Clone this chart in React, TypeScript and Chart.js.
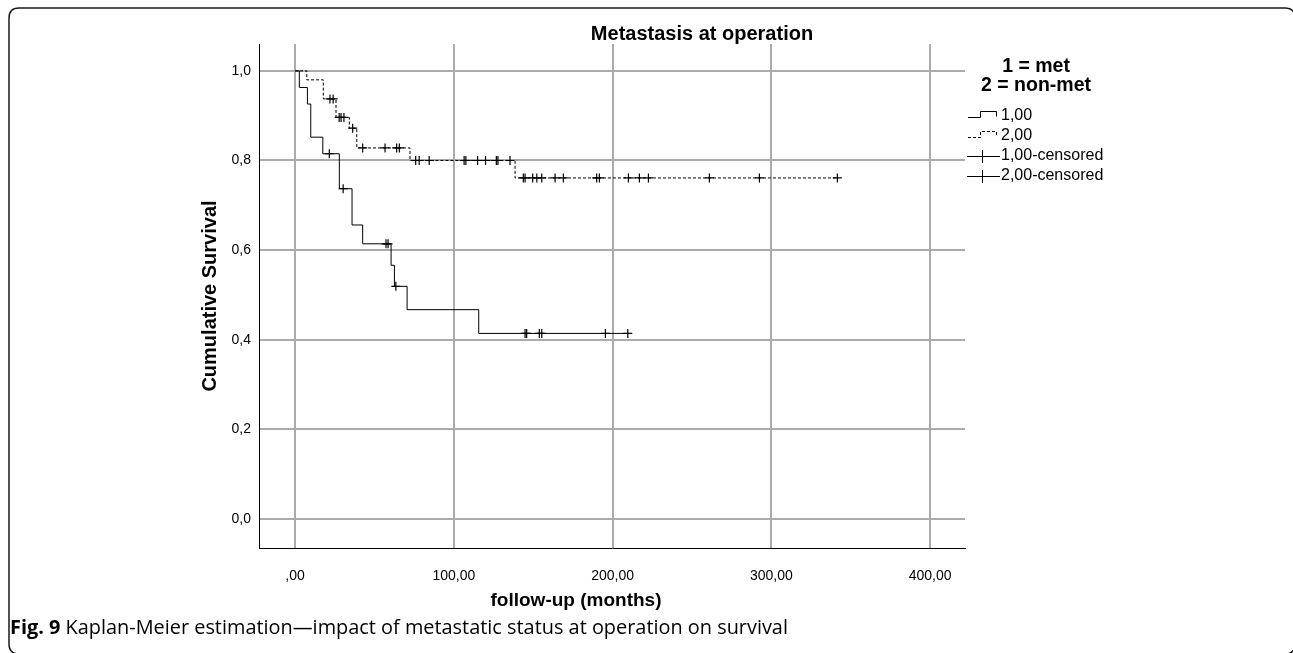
import React, { useEffect, useRef } from 'react';
import { Chart, registerables } from 'chart.js';

Chart.register(...registerables);

// ---- Data ----
// Group 1 = met (solid): event times and survival after each step
const metTimes = [0, 2.7, 7.8, 9.9, 17.5, 27.9, 35.9, 42.6, 60.5, 62.6, 70.6, 115.7, 209.6];
const metSurv = [1.0, 0.963, 0.926, 0.852, 0.815, 0.737, 0.656, 0.614, 0.566, 0.519, 0.467, 0.414, 0.414];
const metCensTimes = [21.6, 30.3, 57.3, 58.6, 63.5, 144.9, 145.9, 153.9, 155.4, 195.5, 209.6];
const metCensSurv = [0.815, 0.737, 0.614, 0.614, 0.519, 0.414, 0.414, 0.414, 0.414, 0.414, 0.414];

// Group 2 = non-met (dashed)
const nonMetTimes = [0, 7.4, 17.8, 25.8, 34.2, 38.9, 72.4, 138.6, 341.6];
const nonMetSurv = [1.0, 0.98, 0.9375, 0.896, 0.872, 0.828, 0.8, 0.761, 0.761];
const nonMetCensTimes = [
  22.0, 24.0, 27.8, 29.0, 30.8, 36.3, 42.6, 56.7, 64.0, 65.7,
  76.0, 78.2, 84.5, 106.5, 107.6, 115.0, 120.0, 126.8, 127.8, 135.4,
  143.8, 144.9, 149.7, 152.3, 155.4, 163.8, 169.0, 190.0, 191.7, 210.0,
  216.9, 222.6, 261.0, 292.5, 341.6,
];
const nonMetCensSurv = [
  0.9375, 0.9375, 0.896, 0.896, 0.896, 0.872, 0.828, 0.828, 0.828, 0.828,
  0.8, 0.8, 0.8, 0.8, 0.8, 0.8, 0.8, 0.8, 0.8, 0.8,
  0.761, 0.761, 0.761, 0.761, 0.761, 0.761, 0.761, 0.761, 0.761, 0.761,
  0.761, 0.761, 0.761, 0.761, 0.761,
];

const xTickValues = [0, 100, 200, 300, 400];
const yTickValues = [0, 0.2, 0.4, 0.6, 0.8, 1.0];

const chartTitle = 'Metastasis at operation';
const legendTitleLines = ['1 = met', '2 = non-met'];
const legendLabels = ['1,00', '2,00', '1,00-censored', '2,00-censored'];
const xAxisTitle = 'follow-up (months)';
const yAxisTitle = 'Cumulative Survival';
const captionBold = 'Fig. 9';
const captionText = ' Kaplan-Meier estimation\u2014impact of metastatic status at operation on survival';

const FONT = '"Liberation Sans", Arial, Helvetica, sans-serif';
const CAPTION_FONT = '"Open Sans", "Noto Sans", sans-serif';
const W = 1293;
const H = 653;

const decorPlugin = {
  id: 'decor',
  afterDraw(chart: any) {
    const ctx = chart.ctx as CanvasRenderingContext2D;
    ctx.save();

    // outer rounded frame
    ctx.strokeStyle = '#1a1a1a';
    ctx.lineWidth = 1.5;
    ctx.beginPath();
    const fx = 9, fy = 8, fr = 10, fRight = 1295, fBottom = 654;
    ctx.moveTo(fx, fBottom - fr);
    ctx.lineTo(fx, fy + fr);
    ctx.quadraticCurveTo(fx, fy, fx + fr, fy);
    ctx.lineTo(fRight - fr, fy);
    ctx.quadraticCurveTo(fRight, fy, fRight, fy + fr);
    ctx.lineTo(fRight, fBottom - fr);
    ctx.quadraticCurveTo(fRight, fBottom, fRight - fr, fBottom);
    ctx.lineTo(fx + fr, fBottom);
    ctx.quadraticCurveTo(fx, fBottom, fx, fBottom - fr);
    ctx.stroke();

    ctx.fillStyle = '#000';
    ctx.textBaseline = 'middle';

    // title
    ctx.font = `bold 20px ${FONT}`;
    ctx.textAlign = 'center';
    ctx.fillText(chartTitle, 702, 34);

    // legend title
    ctx.font = `bold 19.5px ${FONT}`;
    ctx.fillText(legendTitleLines[0], 1036, 67);
    ctx.fillText(legendTitleLines[1], 1036, 86);

    // legend items
    ctx.font = `16px ${FONT}`;
    ctx.textAlign = 'left';
    const rows = [116, 136, 156, 176];
    legendLabels.forEach((lab, i) => ctx.fillText(lab, 1001, rows[i]));

    ctx.strokeStyle = '#000';
    ctx.lineWidth = 1;
    // step symbols
    [0, 1].forEach((i) => {
      const y = rows[i];
      ctx.setLineDash(i === 1 ? [3, 2] : []);
      ctx.beginPath();
      ctx.moveTo(968, y + 1.5);
      ctx.lineTo(980.5, y + 1.5);
      ctx.lineTo(980.5, y - 4.5);
      ctx.lineTo(996.5, y - 4.5);
      ctx.lineTo(996.5, y + 0.5);
      ctx.stroke();
    });
    ctx.setLineDash([]);
    // censored symbols
    [2, 3].forEach((i) => {
      const y = rows[i] + 0.5;
      ctx.beginPath();
      ctx.moveTo(967, y);
      ctx.lineTo(1000, y);
      ctx.moveTo(982.5, y - 6.5);
      ctx.lineTo(982.5, y + 6.5);
      ctx.stroke();
    });

    // axis titles
    ctx.font = `bold 19px ${FONT}`;
    ctx.textAlign = 'center';
    ctx.fillText(xAxisTitle, 576, 601);
    ctx.save();
    ctx.translate(210, 296);
    ctx.rotate(-Math.PI / 2);
    ctx.font = `bold 20px ${FONT}`;
    ctx.fillText(yAxisTitle, 0, 0);
    ctx.restore();

    // caption
    ctx.textAlign = 'left';
    ctx.font = `bold 19.9px ${CAPTION_FONT}`;
    ctx.fillText(captionBold, 10, 628);
    const bw = ctx.measureText(captionBold).width;
    ctx.font = `19.9px ${CAPTION_FONT}`;
    ctx.fillText(captionText, 10 + bw, 628);

    ctx.restore();
  },
};

const fmtX = (v: number) => (v === 0 ? ',00' : v.toFixed(2).replace('.', ','));
const fmtY = (v: number) => v.toFixed(1).replace('.', ',');

export default function App() {
  const ref = useRef<HTMLCanvasElement | null>(null);

  useEffect(() => {
    document.body.style.margin = '0';
    const canvas = ref.current;
    if (!canvas) return;
    const toPts = (xs: number[], ys: number[]) => xs.map((x, i) => ({ x, y: ys[i] }));

    const chart = new Chart(canvas, {
      type: 'line',
      data: {
        datasets: [
          {
            label: legendLabels[0],
            data: toPts(metTimes, metSurv),
            stepped: true,
            borderColor: '#000',
            borderWidth: 1,
            pointRadius: 0,
            fill: false,
          },
          {
            label: legendLabels[1],
            data: toPts(nonMetTimes, nonMetSurv),
            stepped: true,
            borderColor: '#000',
            borderWidth: 1,
            borderDash: [3, 2],
            pointRadius: 0,
            fill: false,
          },
          {
            label: legendLabels[2],
            type: 'scatter',
            data: toPts(metCensTimes, metCensSurv),
            showLine: false,
            pointStyle: 'cross',
            pointRadius: 4.5,
            borderColor: '#000',
            backgroundColor: '#000',
            borderWidth: 1.2,
          },
          {
            label: legendLabels[3],
            type: 'scatter',
            data: toPts(nonMetCensTimes, nonMetCensSurv),
            showLine: false,
            pointStyle: 'cross',
            pointRadius: 4.5,
            borderColor: '#000',
            backgroundColor: '#000',
            borderWidth: 1.2,
          },
        ] as any,
      },
      options: {
        responsive: false,
        animation: false,
        events: [],
        layout: { padding: { left: 0, top: 44, right: W - 965, bottom: H - 548 - 45 } },
        scales: {
          x: {
            type: 'linear',
            min: -22.7,
            max: 422,
            afterBuildTicks: (s: any) => {
              s.ticks = xTickValues.map((v) => ({ value: v }));
            },
            afterFit: (s: any) => {
              s.height = 45;
            },
            grid: { color: '#ababab', lineWidth: 2, drawTicks: false },
            border: { color: '#000', width: 1 },
            ticks: {
              padding: 20,
              color: '#000',
              font: { family: FONT, size: 14 },
              maxRotation: 0,
              callback: (v: any) => fmtX(Number(v)),
            },
          },
          y: {
            type: 'linear',
            min: -0.065,
            max: 1.06,
            afterBuildTicks: (s: any) => {
              s.ticks = yTickValues.map((v) => ({ value: v }));
            },
            afterFit: (s: any) => {
              s.width = 259;
            },
            grid: { color: '#ababab', lineWidth: 2, drawTicks: false },
            border: { color: '#000', width: 1 },
            ticks: {
              padding: 8,
              color: '#000',
              font: { family: FONT, size: 14 },
              callback: (v: any) => fmtY(Number(v)),
            },
          },
        },
        plugins: {
          legend: { display: false },
          tooltip: { enabled: false },
          title: { display: false },
        },
      },
      plugins: [decorPlugin],
    } as any);

    return () => chart.destroy();
  }, []);

  return (
    <div style={{ width: W, height: H, background: '#fff' }}>
      <canvas ref={ref} width={W} height={H} style={{ display: 'block' }} />
    </div>
  );
}
